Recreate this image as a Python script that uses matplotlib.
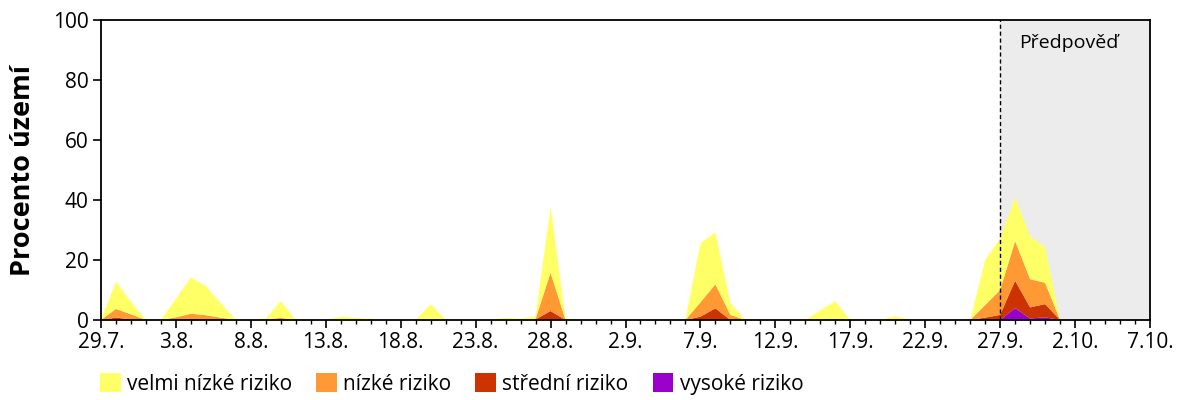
import numpy as np
import pandas as pd
from matplotlib import pyplot as plt
from matplotlib.patches import Patch
from matplotlib.ticker import MultipleLocator

plt.rcParams['font.family'] = ['Open Sans', 'DejaVu Sans']

start = pd.Timestamp('2024-07-29')
forecast_from = 60  # 27.9.
n_days = 70

# daily share of area (%) per risk class, day 0 = 29.7.
velmi_nizke = [0, 9.1, 4.2, 0, 0, 6.1, 12.1, 9.7, 4.8, 0,
               0, 0.3, 5.6, 0, 0, 0, 1.1, 0.7, 0.4, 0,
               0, 0, 5.3, 0, 0, 0, 0, 0.8, 0.4, 0.9,
               22.0, 0.5, 0, 0, 0, 0, 0, 0, 0, 0,
               19.7, 17.3, 3.9, 0, 0, 0, 0, 0, 3.0, 5.9,
               0, 0, 0, 1.0, 0, 0, 0, 0, 0, 15.0,
               17.2, 14.6, 14.2, 12.0, 0]
nizke = [0, 2.9, 1.7, 0, 0, 0.9, 1.8, 1.6, 0.8, 0,
         0, 0.2, 0.7, 0, 0, 0, 0, 0, 0, 0,
         0, 0, 0, 0, 0, 0, 0, 0, 0, 0.2,
         12.8, 0, 0, 0, 0, 0, 0, 0, 0, 0,
         4.8, 8.0, 1.7, 0, 0, 0, 0, 0, 0.2, 0.4,
         0, 0, 0, 0.3, 0, 0, 0, 0, 0, 4.2,
         8.3, 13.2, 9.4, 7.1, 0]
stredni = [0, 0.8, 0.2, 0, 0, 0, 0.3, 0, 0, 0,
           0, 0, 0, 0, 0, 0, 0, 0, 0, 0,
           0, 0, 0, 0, 0, 0, 0, 0, 0, 0.2,
           2.7, 0, 0, 0, 0, 0, 0, 0, 0, 0,
           1.1, 3.9, 0, 0, 0, 0, 0, 0, 0, 0,
           0, 0, 0, 0, 0, 0, 0, 0, 0, 0.8,
           1.7, 9.1, 3.7, 4.4, 0]
vysoke = [0] * 30 + [0.3] + [0] * 30 + [4.0, 0.5, 0.9, 0]

labels = ['velmi nízké riziko', 'nízké riziko', 'střední riziko', 'vysoké riziko']
colors = ['#FFFF66', '#FF9933', '#CC3300', '#9900CC']
tick_labels = ['29.7.', '3.8.', '8.8.', '13.8.', '18.8.', '23.8.', '28.8.',
               '2.9.', '7.9.', '12.9.', '17.9.', '22.9.', '27.9.', '2.10.', '7.10.']

days = pd.date_range(start, periods=len(velmi_nizke), freq='D')

fig = plt.figure(figsize=(12, 4), dpi=100)
ax = fig.add_axes([101 / 1200, 80 / 400, 1049 / 1200, 300 / 400])

ax.axvspan(start + pd.Timedelta(days=forecast_from), start + pd.Timedelta(days=n_days),
           color='#ECECEC', lw=0, zorder=0)
ax.stackplot(days, vysoke, stredni, nizke, velmi_nizke,
             colors=colors[::-1], linewidth=0, zorder=1)
ax.axvline(start + pd.Timedelta(days=forecast_from), color='black', lw=1,
           ls=(0, (3, 2)), zorder=3)
ax.text(start + pd.Timedelta(days=64.6), 92.5, 'Předpověď',
        ha='center', va='center', fontsize=14)

ax.set_xlim(start, start + pd.Timedelta(days=n_days))
ax.set_ylim(0, 100)
ax.set_xticks(pd.date_range(start, periods=len(tick_labels), freq='5D'))
ax.set_xticklabels(tick_labels)
ax.set_xticks(pd.date_range(start, periods=n_days + 1, freq='D'), minor=True)
ax.yaxis.set_major_locator(MultipleLocator(20))
ax.tick_params(axis='both', which='major', labelsize=15, length=6, width=1.2,
               direction='out', pad=3)
ax.tick_params(axis='x', which='minor', length=3, width=1)
for s in ax.spines.values():
    s.set_linewidth(1.3)
fig.text(23 / 1200, 1 - 170 / 400, 'Procento území', rotation=90, ha='center',
         va='center', fontsize=19.5, fontweight='bold')

handles = [Patch(facecolor=c, edgecolor='none') for c in colors]
fig.legend(handles, labels, loc='center left', bbox_to_anchor=(100 / 1200, 1 - 384 / 400),
           ncol=4, frameon=False, fontsize=15, handlelength=1.0, handleheight=1.0,
           handletextpad=0.3, columnspacing=1.15, borderpad=0, borderaxespad=0)

plt.savefig('out.png', dpi=100)
